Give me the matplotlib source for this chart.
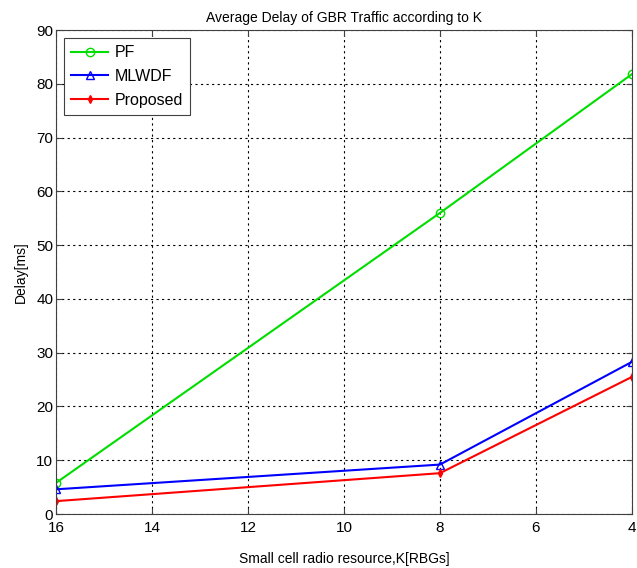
import matplotlib.pyplot as plt

plt.rcParams['font.family'] = ['Liberation Sans', 'DejaVu Sans']

# Radio resource blocks (K) and average delay [ms]
k_rbgs = [16, 8, 4]
pf_delay = [5.8, 56.0, 81.8]
mlwdf_delay = [4.6, 9.2, 28.3]
proposed_delay = [2.4, 7.6, 25.5]

fig = plt.figure(figsize=(6.37, 5.68), dpi=100)
ax = fig.add_axes([0.088, 0.095, 0.904, 0.852])

ax.plot(k_rbgs, pf_delay, color='#00dd00', marker='o', markersize=6,
        markerfacecolor='none', linewidth=1.5, label='PF')
ax.plot(k_rbgs, mlwdf_delay, color='#0000ff', marker='^', markersize=6,
        markerfacecolor='none', linewidth=1.5, label='MLWDF')
ax.plot(k_rbgs, proposed_delay, color='#ff0000', marker='d', markersize=4,
        linewidth=1.5, label='Proposed')

ax.set_xlim(16, 4)
ax.set_ylim(0, 90)
ax.set_xticks([16, 14, 12, 10, 8, 6, 4])
ax.set_yticks(range(0, 91, 10))
ax.tick_params(direction='in', labelsize=11, length=4, top=True, right=True,
               color='#404040')
ax.tick_params(axis='x', pad=5)
ax.tick_params(axis='y', pad=2)
for sp in ax.spines.values():
    sp.set_color('#404040')
ax.grid(True, color='black', linestyle=(0, (2, 3)), linewidth=0.8)

ax.set_title('Average Delay of GBR Traffic according to K', fontsize=10)
ax.set_xlabel('Small cell radio resource,K[RBGs]', fontsize=10, labelpad=12)
ax.set_ylabel('Delay[ms]', fontsize=10, labelpad=6)

leg = ax.legend(loc='upper left', fancybox=False,
                prop={'family': ['Liberation Sans Narrow', 'Liberation Sans'], 'size': 11.5},
                edgecolor='#404040', framealpha=1, handlelength=2.3,
                handletextpad=0.4, labelspacing=0.55, borderaxespad=0.5,
                borderpad=0.45)
leg.get_frame().set_linewidth(0.8)

plt.savefig('out.png')
